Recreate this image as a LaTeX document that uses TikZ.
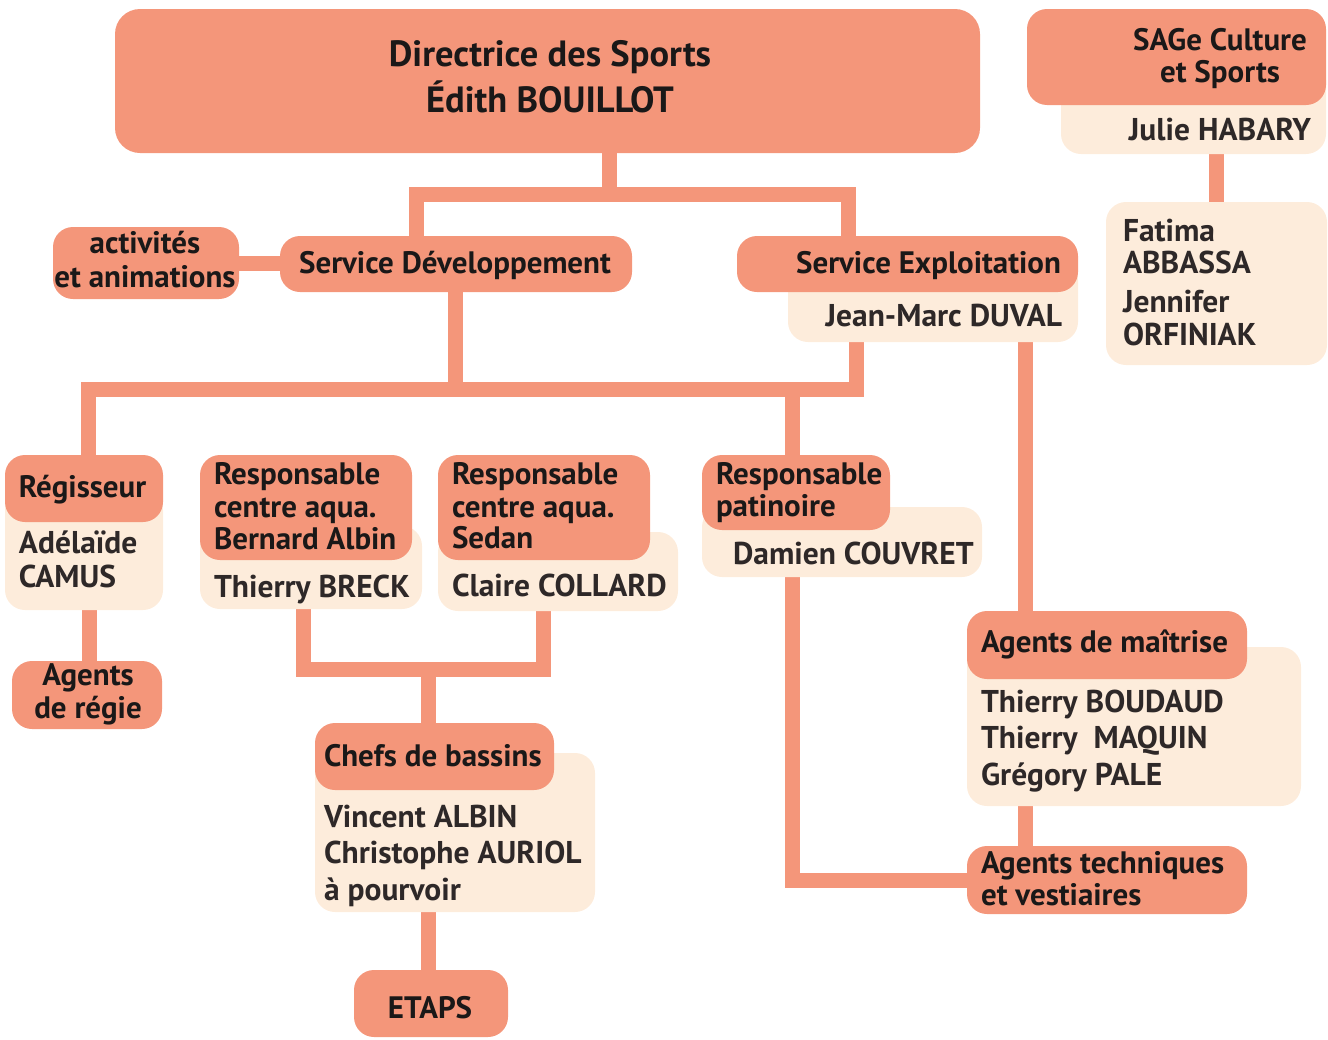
\documentclass[tikz,border=0pt]{standalone}
\usepackage{fontspec}
\setmainfont{PT Sans}
\definecolor{salmon}{HTML}{F4967A}
\definecolor{cream}{HTML}{FDECDB}
\definecolor{ink}{HTML}{1A1818}
\definecolor{inkname}{HTML}{2E2828}
\pgfdeclarelayer{bg}
\pgfsetlayers{bg,main}
\tikzset{
  sbox/.style={fill=salmon, draw=none, rounded corners=20pt, inner sep=0pt, outer sep=0pt},
  cbox/.style={fill=cream, draw=none, rounded corners=20pt, inner sep=0pt, outer sep=0pt},
  conn/.style={draw=salmon, line width=15pt, line join=miter, line cap=butt},
  ttl/.style={font=\fontsize{31}{34}\selectfont\bfseries, text=ink, inner sep=0pt, outer sep=0pt},
  big/.style={font=\fontsize{36.5}{40}\selectfont\bfseries, text=ink, inner sep=0pt, outer sep=0pt},
  nm/.style={font=\fontsize{31.5}{34}\selectfont\bfseries, text=inkname, inner sep=0pt, outer sep=0pt},
}
\newcommand\bx[6]{\node[#2, minimum width={(#5-#3)*1pt}, minimum height={(#6-#4)*1pt}] (#1) at ({(#3+#5)/2},{(#4+#6)/2}) {};}
\begin{document}
\begin{tikzpicture}[x=1pt,y=-1pt]
\useasboundingbox (0,0) rectangle (1328,1039);
% boxes
\bx{dir}{sbox,rounded corners=25pt}{115}{9}{980}{153}
\bx{sagec}{cbox}{1061}{60}{1326}{154}
\bx{sage}{sbox}{1027}{9}{1326}{105}
\bx{fat}{cbox}{1106}{202}{1327}{365}
\bx{act}{sbox}{53}{227}{239}{299}
\bx{sdev}{sbox}{280}{236}{632}{292}
\bx{sexpc}{cbox}{788}{260}{1078}{342}
\bx{sexp}{sbox}{737}{236}{1078}{292}
\bx{regc}{cbox}{5}{490}{163}{610}
\bx{reg}{sbox}{5}{455}{163}{522}
\bx{ar}{sbox}{12}{661}{162}{729}
\bx{brc}{cbox}{200}{526}{422}{609}
\bx{br}{sbox}{200}{455}{412}{560}
\bx{sdc}{cbox}{438}{532}{678}{611}
\bx{sd}{sbox}{438}{455}{650}{560}
\bx{chc}{cbox}{315}{753}{595}{912}
\bx{ch}{sbox}{315}{723}{554}{790}
\bx{etaps}{sbox}{354}{970}{508}{1037}
\bx{rpc}{cbox}{702}{507}{982}{577}
\bx{rp}{sbox}{702}{455}{890}{530}
\bx{amc}{cbox}{967}{647}{1301}{806}
\bx{am}{sbox}{967}{611}{1247}{679}
\bx{at}{sbox}{967}{846}{1247}{914}
% connector coordinates
\coordinate (j0) at (609,194);
\coordinate (b1L) at (416,194);
\coordinate (b1R) at (848,194);
\coordinate (j2) at (455.5,389);
\coordinate (b2L) at (88.5,389);
\coordinate (b2R) at (856,389);
\coordinate (j3) at (792,389);
\coordinate (x4) at (1025.5,0);
\coordinate (x5) at (89,0);
\coordinate (xB) at (303,669);
\coordinate (xC) at (543.5,669);
\coordinate (j6) at (428,669);
\coordinate (xP) at (792,0);
\coordinate (xJ) at (1216.5,0);
\begin{pgfonlayer}{bg}
\draw[conn] (dir.south -| j0) -- (j0);
\draw[conn] (sdev.north -| b1L) |- (b1R) -- (sexp.north -| b1R);
\draw[conn] (act.east) -- (act.east -| sdev.west);
\draw[conn] (sdev.south -| j2) -- (j2);
\draw[conn] (reg.north -| b2L) |- (b2R) -- (sexpc.south -| b2R);
\draw[conn] (j3) -- (rp.north -| j3);
\draw[conn] (sexpc.south -| x4) -- (am.north -| x4);
\draw[conn] (amc.south -| x4) -- (at.north -| x4);
\draw[conn] (regc.south -| x5) -- (ar.north -| x5);
\draw[conn] (brc.south -| xB) |- (xC) -- (sdc.south -| xC);
\draw[conn] (j6) -- (ch.north -| j6);
\draw[conn] (chc.south -| j6) -- (etaps.north -| j6);
\draw[conn] (rpc.south -| xP) |- (at.west);
\draw[conn] (sagec.south -| xJ) -- (fat.north -| xJ);
\end{pgfonlayer}
% texts
\node[big, anchor=base] (t1) at (550,66) {Directrice des Sports};
\node[big, anchor=base] (t2) at (550,112) {Édith BOUILLOT};
\node[ttl, anchor=base] (s1) at (1220,50) {SAGe Culture};
\node[ttl, anchor=base] (s2) at (1220,82) {et Sports};
\node[nm, anchor=base] (s3) at (1220,140) {Julie HABARY};
\node[nm, anchor=base west] (f1) at (1123,241) {Fatima};
\node[nm, anchor=base west] (f2) at (1123,273) {ABBASSA};
\node[nm, anchor=base west] (f3) at (1123,312) {Jennifer};
\node[nm, anchor=base west] (f4) at (1123,345) {ORFINIAK};
\node[ttl, anchor=base] (a1) at (145,253) {activités};
\node[ttl, anchor=base] (a2) at (145,287) {et animations};
\node[ttl, anchor=base] (d1) at (455,273) {Service Développement};
\node[ttl, anchor=base east] (e1) at (1061,273) {Service Exploitation};
\node[nm, anchor=base east] (e2) at (1062,326) {Jean-Marc DUVAL};
\node[ttl, anchor=base west] (r1) at (19,497) {Régisseur};
\node[nm, anchor=base west] (r2) at (19,553) {Adélaïde};
\node[nm, anchor=base west] (r3) at (19,587) {CAMUS};
\node[ttl, anchor=base] (g1) at (88,685) {Agents};
\node[ttl, anchor=base] (g2) at (88,718) {de régie};
\node[ttl, anchor=base west] (b1) at (214,484) {Responsable};
\node[ttl, anchor=base west] (b2) at (214,517) {centre aqua.};
\node[ttl, anchor=base west] (b3) at (214,549) {Bernard Albin};
\node[nm, anchor=base west] (b4) at (214,597) {Thierry BRECK};
\node[ttl, anchor=base west] (c1) at (452,484) {Responsable};
\node[ttl, anchor=base west] (c2) at (452,517) {centre aqua.};
\node[ttl, anchor=base west] (c3) at (452,548) {Sedan};
\node[nm, anchor=base west] (c4) at (452,596) {Claire COLLARD};
\node[ttl, anchor=base west] (h1) at (324,766) {Chefs de bassins};
\node[nm, anchor=base west] (h2) at (324,827) {Vincent ALBIN};
\node[nm, anchor=base west] (h3) at (324,863) {Christophe AURIOL};
\node[nm, anchor=base west] (h4) at (324,900) {à pourvoir};
\node[ttl, anchor=base] (p1) at (430,1018) {ETAPS};
\node[ttl, anchor=base west] (q1) at (716,484) {Responsable};
\node[ttl, anchor=base west] (q2) at (716,516) {patinoire};
\node[nm, anchor=base west] (q3) at (733,564) {Damien COUVRET};
\node[ttl, anchor=base west] (m1) at (981,652) {Agents de maîtrise};
\node[nm, anchor=base west] (m2) at (981,712) {Thierry BOUDAUD};
\node[nm, anchor=base west] (m3) at (981,748) {Thierry\ \ MAQUIN};
\node[nm, anchor=base west] (m4) at (981,785) {Grégory PALE};
\node[ttl, anchor=base west] (v1) at (981,873) {Agents techniques};
\node[ttl, anchor=base west] (v2) at (981,905) {et vestiaires};
\end{tikzpicture}
\end{document}
